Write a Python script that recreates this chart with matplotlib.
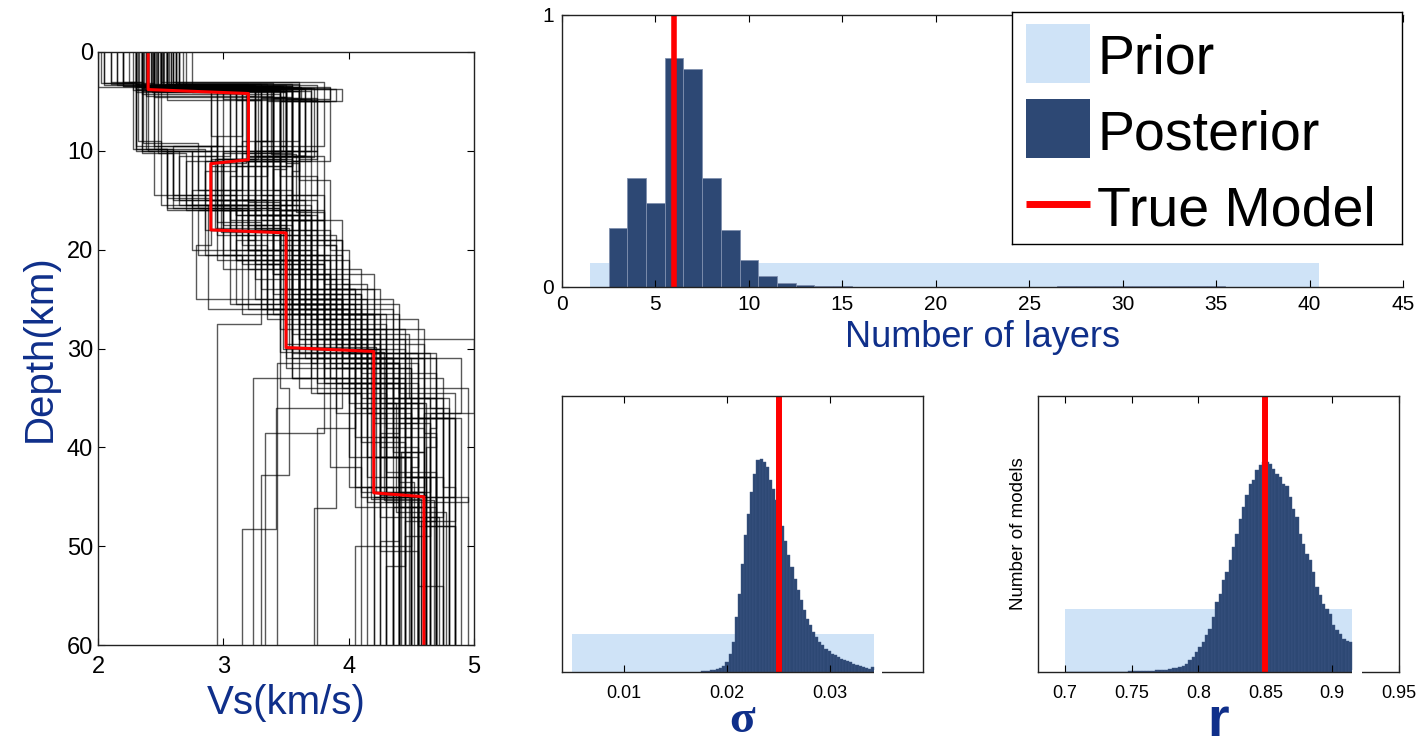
import numpy as np
import matplotlib.pyplot as plt

plt.rcParams['font.family'] = ['Liberation Sans', 'DejaVu Sans']

W, H = 1416, 746
blue_lbl = '#0f2f8a'
prior_col = '#cfe3f7'
post_col = '#2d4874'

# true model (Vs, depth) as drawn
true_vs = [2.4, 2.4, 3.2, 3.2, 2.9, 2.9, 3.5, 3.5, 4.2, 4.2, 4.6, 4.6]
true_depth = [0, 3.8, 4.2, 10.9, 11.3, 18.0, 18.3, 29.9, 30.3, 44.6, 45.0, 60]

# ensemble: each profile is [layer bottom depth, Vs]
profiles = [
    [[3.8, 2.40], [10.8, 3.30], [17.5, 3.00], [30.5, 3.55], [44.5, 4.20], [60, 4.60]],
    [[3.5, 2.50], [11.5, 3.40], [16.0, 2.90], [29.0, 3.60], [45.5, 4.15], [60, 4.55]],
    [[4.0, 2.30], [9.5, 3.20], [18.5, 3.10], [31.0, 3.50], [43.0, 4.30], [60, 4.65]],
    [[3.2, 2.55], [10.0, 3.55], [15.5, 3.00], [27.0, 3.70], [36.0, 4.10], [60, 4.50]],
    [[3.6, 2.45], [12.0, 3.10], [18.0, 2.85], [26.0, 3.40], [33.5, 4.00], [46.0, 4.40], [60, 4.70]],
    [[4.2, 2.35], [10.5, 3.45], [19.0, 3.20], [30.0, 3.75], [40.0, 4.25], [60, 4.55]],
    [[3.0, 2.60], [9.0, 3.60], [15.0, 3.30], [25.0, 3.50], [35.0, 4.35], [60, 4.75]],
    [[3.4, 2.20], [10.2, 2.35], [15.5, 2.70], [20.5, 3.30], [31.5, 3.95], [45.0, 4.40], [60, 4.60]],
    [[3.9, 2.50], [4.8, 3.00], [11.0, 3.70], [17.0, 3.40], [28.0, 3.80], [37.0, 4.45], [60, 4.80]],
    [[3.1, 2.05], [9.8, 2.30], [14.5, 2.60], [21.0, 3.10], [26.5, 3.60], [34.0, 4.20], [60, 4.45]],
    [[3.7, 2.65], [5.0, 3.90], [12.5, 3.35], [18.0, 3.05], [24.0, 3.85], [32.0, 4.05], [44.0, 4.50], [60, 4.35]],
    [[3.3, 2.15], [10.0, 2.90], [16.0, 2.55], [22.0, 3.20], [30.0, 3.70], [38.0, 4.30], [48.0, 4.60], [60, 4.85]],
    [[4.0, 2.75], [11.2, 3.50], [19.5, 3.60], [29.5, 3.90], [43.0, 4.15], [60, 4.40]],
    [[3.5, 2.35], [8.5, 3.15], [14.0, 2.95], [20.0, 2.75], [26.0, 3.30], [33.0, 3.85], [47.0, 4.25], [60, 4.60]],
    [[3.8, 2.28], [10.5, 3.05], [15.8, 2.80], [25.5, 3.45], [37.0, 4.40], [60, 4.90]],
    [[3.0, 2.50], [9.5, 3.80], [13.0, 3.60], [20.0, 3.85], [28.0, 4.00], [35.0, 4.60], [60, 4.70]],
    [[3.6, 2.40], [10.8, 3.25], [17.2, 2.95], [27.5, 3.30], [60, 2.95]],
    [[3.9, 2.45], [11.0, 3.35], [18.0, 3.15], [31.5, 3.75], [60, 3.43]],
    [[3.3, 2.35], [4.6, 3.50], [10.0, 3.45], [16.5, 3.20], [24.5, 3.55], [36.0, 3.95], [48.3, 3.42], [60, 3.15]],
    [[3.7, 2.55], [10.5, 3.65], [15.0, 3.40], [22.0, 3.45], [30.5, 3.60], [38.5, 3.80], [60, 3.33]],
    [[3.2, 2.10], [9.0, 2.32], [15.5, 2.50], [26.0, 2.88], [34.0, 3.45], [42.8, 3.52], [60, 3.30]],
    [[3.5, 2.45], [10.2, 3.10], [16.0, 3.00], [24.0, 3.30], [33.0, 3.55], [46.1, 3.90], [60, 3.72]],
    [[3.8, 2.60], [11.5, 3.55], [17.8, 3.25], [25.0, 3.50], [33.0, 3.70], [60, 3.24]],
    [[3.4, 2.30], [9.8, 2.45], [15.0, 2.85], [21.0, 3.35], [30.0, 3.85], [44.0, 4.05], [60, 4.20]],
    [[3.6, 2.50], [5.0, 3.70], [11.0, 3.85], [16.5, 3.55], [24.0, 3.75], [32.5, 4.25], [45.0, 4.70], [60, 4.55]],
    [[3.1, 2.62], [10.0, 3.40], [14.5, 3.75], [19.0, 3.50], [26.5, 3.95], [34.0, 4.20], [45.5, 4.95], [60, 4.80]],
    [[3.9, 2.35], [11.0, 3.60], [15.5, 3.10], [21.5, 3.60], [29.0, 3.80], [36.5, 5.00], [44.0, 4.60], [60, 4.30]],
    [[3.3, 2.45], [4.5, 3.25], [10.5, 3.20], [17.0, 3.45], [25.5, 3.65], [31.0, 4.10], [39.0, 4.50], [60, 4.25]],
    [[3.7, 2.55], [9.5, 3.50], [16.0, 3.30], [20.5, 2.80], [26.5, 3.40], [35.0, 4.15], [50.0, 4.50], [60, 4.05]],
    [[3.5, 2.00], [10.0, 2.40], [15.5, 2.95], [20.0, 3.05], [28.5, 3.55], [36.0, 4.05], [47.0, 4.75], [60, 4.60]],
    [[3.6, 2.40], [5.0, 3.85], [12.5, 3.45], [19.0, 3.75], [26.5, 3.95], [33.5, 4.30], [45.0, 4.55], [60, 4.95]],
    [[3.2, 2.30], [9.0, 3.35], [14.0, 3.15], [18.5, 2.95], [25.0, 3.25], [31.0, 3.95], [41.0, 4.35], [60, 4.50]],
    [[3.8, 2.50], [11.0, 3.00], [16.0, 2.70], [21.5, 3.15], [28.0, 3.45], [36.5, 3.90], [46.0, 4.30], [60, 4.65]],
    [[3.4, 2.70], [10.5, 3.55], [18.5, 3.65], [26.5, 3.90], [34.5, 4.40], [45.0, 4.85], [60, 4.70]],
    [[3.0, 2.25], [10.0, 2.35], [14.5, 2.45], [21.0, 2.95], [26.0, 3.20], [34.0, 3.60], [44.0, 4.00], [60, 4.35]],
    [[3.6, 2.55], [4.9, 3.10], [11.5, 3.25], [16.5, 3.10], [22.0, 3.55], [30.0, 3.65], [39.5, 4.10], [60, 4.45]],
    [[3.9, 2.40], [10.0, 3.70], [16.0, 3.50], [21.0, 3.70], [30.5, 4.00], [41.0, 4.25], [54.0, 4.55], [60, 4.75]],
    [[3.3, 2.60], [9.5, 2.95], [15.0, 2.60], [20.5, 3.00], [26.5, 3.35], [34.5, 3.75], [45.0, 4.10], [60, 4.40]],
    [[3.7, 2.45], [11.0, 3.40], [17.5, 3.20], [29.5, 3.50], [44.8, 4.25], [60, 4.62]],
    [[3.5, 2.35], [10.8, 3.20], [18.0, 2.90], [30.0, 3.48], [45.2, 4.18], [60, 4.58]],
    [[3.8, 2.50], [4.7, 3.45], [11.0, 3.30], [17.0, 3.05], [22.5, 3.40], [33.0, 3.55], [41.0, 4.00], [60, 4.40]],
    [[3.4, 2.20], [10.0, 3.05], [15.5, 2.75], [25.5, 3.05], [31.0, 3.65], [38.0, 4.05], [60, 3.75]],
    [[3.6, 2.65], [10.5, 3.65], [14.0, 3.40], [20.5, 3.55], [27.0, 3.80], [37.0, 4.55], [60, 4.85]],
    [[3.2, 2.40], [9.5, 2.30], [15.0, 3.00], [19.0, 3.25], [25.5, 3.10], [33.5, 3.80], [43.0, 4.45], [60, 4.70]],
    [[3.9, 2.55], [10.5, 3.50], [17.5, 3.35], [23.0, 3.25], [30.0, 3.90], [37.5, 4.20], [49.0, 4.65], [60, 4.45]],
    [[3.5, 2.30], [11.0, 3.15], [15.5, 2.85], [20.0, 3.20], [27.5, 3.60], [36.0, 4.30], [45.0, 4.45], [60, 4.20]],
    [[3.7, 2.48], [5.0, 3.95], [10.5, 3.60], [17.0, 3.80], [24.0, 3.60], [30.5, 4.20], [38.0, 4.70], [60, 4.65]],
    [[3.3, 2.05], [10.0, 2.50], [15.5, 2.65], [22.0, 3.00], [31.0, 3.55], [42.0, 3.85], [60, 4.10]],
    [[3.6, 2.42], [10.8, 3.28], [17.8, 2.93], [29.8, 3.52], [44.6, 4.22], [60, 4.55]],
    [[3.8, 2.38], [11.2, 3.18], [18.2, 2.98], [30.4, 3.45], [45.3, 4.28], [60, 4.68]],
    [[3.4, 2.58], [10.0, 3.48], [16.5, 3.25], [24.5, 3.70], [33.0, 4.10], [44.0, 4.75], [60, 4.85]],
    [[3.1, 2.15], [9.8, 2.28], [14.8, 2.55], [19.5, 2.90], [25.0, 2.78], [32.0, 3.50], [46.0, 4.05], [60, 4.30]],
    [[3.7, 2.52], [10.3, 3.38], [16.2, 3.58], [23.5, 3.80], [31.5, 4.15], [43.5, 4.40], [60, 4.52]],
    [[3.5, 2.33], [4.8, 3.62], [11.8, 3.50], [18.5, 3.40], [26.0, 3.60], [35.5, 4.00], [46.5, 4.38], [60, 4.78]],
    [[3.6, 2.62], [10.6, 3.72], [15.2, 3.20], [21.0, 3.45], [28.5, 3.70], [35.0, 4.48], [44.5, 4.65], [60, 4.50]],
    [[3.0, 2.10], [10.0, 2.30], [15.8, 2.75], [19.5, 3.15], [27.0, 3.35], [33.5, 3.90], [45.0, 4.30], [60, 4.55]],
    [[4.6, 2.45], [11.0, 3.50], [16.0, 3.35], [22.0, 3.65], [29.0, 3.75], [35.5, 4.45], [60, 4.62]],
    [[4.9, 2.55], [10.0, 3.75], [15.0, 3.55], [20.5, 3.65], [26.0, 3.85], [35.0, 4.10], [45.5, 4.80], [60, 4.55]],
    [[3.1, 2.02], [9.5, 2.45], [15.0, 2.90], [21.0, 3.40], [26.5, 3.55], [33.0, 4.25], [43.0, 4.45], [60, 4.75]],
    [[4.5, 2.38], [9.0, 3.40], [14.0, 3.25], [19.5, 3.45], [25.5, 3.60], [31.0, 4.05], [39.0, 4.35], [60, 4.40]],
    [[3.9, 2.62], [4.8, 3.55], [10.5, 3.65], [16.5, 3.45], [25.0, 3.70], [32.0, 3.95], [40.5, 4.35], [60, 4.60]],
    [[3.3, 2.48], [5.0, 3.75], [9.5, 3.45], [15.0, 3.60], [21.5, 3.50], [30.5, 3.80], [37.5, 4.55], [60, 4.40]],
    [[3.2, 2.68], [4.6, 3.30], [10.0, 3.55], [15.8, 3.25], [20.0, 3.45], [27.0, 3.75], [36.5, 4.15], [47.0, 4.50], [60, 4.72]],
    [[4.0, 2.43], [10.5, 2.95], [15.0, 2.65], [21.5, 3.25], [27.5, 3.50], [34.0, 4.00], [45.0, 4.20], [60, 4.48]],
    [[3.6, 2.35], [10.0, 3.25], [15.5, 3.05], [21.0, 3.20], [26.0, 3.35], [33.5, 3.75], [44.0, 4.35], [60, 4.15]],
    [[3.8, 2.57], [4.7, 3.40], [10.8, 3.75], [17.0, 3.60], [23.5, 3.95], [31.0, 4.00], [40.0, 4.70], [60, 4.62]],
    [[3.4, 2.50], [10.2, 3.45], [16.5, 3.10], [22.5, 3.55], [31.5, 3.85], [38.5, 4.40], [50.5, 4.25], [60, 4.55]],
    [[3.5, 2.40], [11.5, 3.55], [18.0, 3.40], [24.5, 3.40], [32.5, 4.10], [42.5, 4.30], [60, 4.70]],
    [[3.7, 2.30], [9.8, 2.38], [15.8, 2.55], [20.0, 3.20], [25.5, 3.45], [33.0, 3.80], [44.5, 4.10], [60, 4.55]],
    [[3.2, 2.55], [4.9, 3.20], [10.5, 3.30], [16.0, 3.40], [25.0, 3.80], [30.5, 3.95], [36.0, 4.65], [60, 4.80]],
    [[3.9, 2.50], [10.5, 3.60], [16.0, 3.70], [22.0, 3.60], [30.0, 4.10], [39.0, 4.45], [47.5, 4.70], [60, 4.45]],
    [[3.6, 2.46], [10.0, 3.35], [15.5, 3.55], [22.5, 3.40], [28.5, 3.85], [35.5, 4.25], [46.0, 4.60], [60, 4.35]],
    [[3.3, 2.32], [8.5, 2.90], [14.5, 2.95], [20.0, 3.40], [25.0, 3.70], [32.0, 4.15], [43.0, 4.50], [60, 4.62]],
    [[3.5, 2.62], [4.8, 3.85], [12.0, 3.60], [18.5, 3.55], [26.0, 3.70], [34.0, 3.95], [45.0, 4.25], [60, 4.35]],
    [[3.8, 2.44], [11.0, 3.45], [17.0, 3.30], [23.0, 3.70], [31.0, 4.00], [36.5, 4.90], [60, 4.65]],
    [[3.0, 2.20], [9.2, 2.36], [14.0, 2.80], [18.0, 3.25], [24.0, 3.50], [31.5, 4.05], [42.0, 4.55], [60, 4.50]],
    [[3.7, 2.58], [10.8, 3.50], [14.5, 3.30], [19.5, 3.80], [28.0, 3.90], [35.5, 4.30], [48.0, 4.55], [60, 4.85]],
    [[3.6, 2.52], [10.5, 3.25], [16.0, 3.45], [20.5, 3.60], [26.0, 3.65], [33.0, 4.35], [44.5, 4.40], [60, 4.60]],
    [[3.4, 2.36], [10.2, 3.55], [15.0, 3.15], [21.5, 3.35], [29.0, 3.60], [37.0, 4.20], [47.5, 4.85], [60, 4.58]],
    [[3.9, 2.65], [11.0, 3.40], [18.5, 3.50], [25.5, 3.55], [32.0, 3.90], [41.0, 4.20], [52.0, 4.45], [60, 4.30]],
    [[3.5, 2.42], [10.5, 3.60], [15.0, 3.45], [22.5, 3.75], [29.5, 4.20], [40.5, 4.60], [60, 4.42]],
    [[3.3, 2.47], [9.5, 3.15], [15.5, 2.90], [21.0, 3.10], [28.5, 3.65], [34.5, 3.70], [45.5, 4.30], [60, 4.40]],
    [[3.7, 2.37], [10.8, 3.30], [17.0, 3.55], [25.0, 3.60], [32.0, 3.80], [39.0, 4.05], [49.5, 4.40], [60, 4.25]],
    [[3.2, 2.53], [4.7, 3.60], [11.0, 3.40], [16.5, 3.35], [24.0, 3.45], [31.0, 3.75], [38.5, 4.60], [60, 4.70]],
    [[3.8, 2.30], [10.2, 2.48], [15.8, 2.60], [20.5, 2.85], [26.5, 3.15], [31.5, 3.70], [41.0, 4.15], [60, 4.50]],
]

# number of layers
prior_k = list(range(2, 41))
prior_k_h = 0.087
post_k = list(range(3, 41))
post_k_h = [0.218, 0.402, 0.307, 0.842, 0.800, 0.400, 0.209, 0.098, 0.039, 0.013,
            0.006, 0.003, 0.002, 0.001, 0.001, 0.001, 0.001, 0.001, 0.001, 0.001,
            0.001, 0.001, 0.001, 0.001, 0.002, 0.003, 0.004, 0.005, 0.005, 0.005,
            0.004, 0.003, 0.002, 0.001, 0.001, 0.001, 0.001, 0.0]
true_k = 6

# sigma
sig_prior = (0.005, 0.03425)
sig_prior_h = 0.138
sig_start, sig_width = 0.01745, 0.0003
sig_h = [0.002, 0.004, 0.005, 0.006, 0.007, 0.010, 0.014, 0.022, 0.036, 0.066,
         0.109, 0.199, 0.284, 0.393, 0.495, 0.574, 0.652, 0.719, 0.769, 0.773,
         0.761, 0.743, 0.694, 0.664, 0.622, 0.562, 0.528, 0.475, 0.423, 0.380,
         0.338, 0.298, 0.260, 0.226, 0.193, 0.169, 0.145, 0.127, 0.109, 0.097,
         0.085, 0.075, 0.066, 0.060, 0.054, 0.048, 0.045, 0.040, 0.035, 0.030,
         0.025, 0.021, 0.017, 0.013, 0.011, 0.018]
true_sig = 0.025

# r
r_prior = (0.70, 0.915)
r_prior_h = 0.228
r_start, r_width = 0.70, 0.0025
r_h = [0, 0, 0, 0, 0, 0, 0, 0, 0, 0, 0,
       0.001, 0.001, 0.001, 0.001, 0.001, 0.001, 0.001, 0.001,
       0.002, 0.002, 0.003, 0.003, 0.004, 0.004, 0.005, 0.005, 0.006, 0.007,
       0.008, 0.009, 0.011, 0.013, 0.015, 0.018, 0.022, 0.028,
       0.042, 0.054, 0.072, 0.091, 0.109, 0.133, 0.157, 0.199, 0.254, 0.284,
       0.332, 0.362, 0.405, 0.453, 0.501, 0.556, 0.598, 0.640, 0.682, 0.694,
       0.731, 0.749, 0.761, 0.761, 0.755, 0.737, 0.719, 0.707, 0.682, 0.673,
       0.634, 0.592, 0.562, 0.501, 0.465, 0.429, 0.405, 0.362, 0.308, 0.278,
       0.248, 0.229, 0.211, 0.169, 0.151, 0.136, 0.121, 0.112, 0.109]
true_r = 0.85


fig = plt.figure(figsize=(W / 100, H / 100), dpi=100)


def px_axes(x0, y0, x1, y1):
    return fig.add_axes([x0 / W, 1 - y1 / H, (x1 - x0) / W, (y1 - y0) / H])


def style(ax, size):
    ax.tick_params(direction='in', length=5, width=0.8, top=True, right=True, labelsize=size)
    for s in ax.spines.values():
        s.set_linewidth(1.0)
        s.set_color('#222222')


# ---- left: Vs profiles
ax = px_axes(98, 52, 474, 645)
for prof in profiles:
    xs, ys, top = [], [], 0
    for bottom, v in prof:
        xs += [v, v]
        ys += [top, bottom]
        top = bottom
    ax.plot(xs, ys, color='black', lw=1.0, alpha=0.65)
ax.plot(true_vs, true_depth, color='red', lw=2.2)
ax.set_xlim(2, 5)
ax.set_ylim(60, 0)
ax.set_xticks([2, 3, 4, 5])
ax.set_yticks([0, 10, 20, 30, 40, 50, 60])
style(ax, 17)
ax.tick_params(axis='x', pad=8)
ax.set_xlabel('Vs(km/s)', fontsize=29, color=blue_lbl, labelpad=4)
ax.set_ylabel('Depth(km)', fontsize=29, color=blue_lbl, labelpad=6)

# ---- top right: number of layers
ax1 = px_axes(562, 15, 1403, 287)
ax1.bar(prior_k, [prior_k_h] * len(prior_k), width=1, color=prior_col, lw=0)
ax1.bar(post_k, post_k_h, width=1, color=post_col, edgecolor='#7f8fae', lw=0.6)
ax1.axvline(true_k, color='red', lw=4)
ax1.set_xlim(0, 45)
ax1.set_ylim(0, 1)
ax1.set_xticks(range(0, 46, 5))
ax1.set_yticks([0, 1])
style(ax1, 15)
ax1.tick_params(right=False, pad=6)
ax1.spines['right'].set_visible(False)
ax1.set_xlabel('Number of layers', fontsize=26, color=blue_lbl, labelpad=4)

# legend drawn in its own box
lg = px_axes(1012, 12, 1402, 244)
lg.set_xlim(0, 390)
lg.set_ylim(232, 0)
lg.set_xticks([])
lg.set_yticks([])
for s in lg.spines.values():
    s.set_linewidth(1.0)
lg.add_patch(plt.Rectangle((14, 12), 64, 59, color=prior_col, lw=0))
lg.add_patch(plt.Rectangle((14, 87), 64, 59, color=post_col, lw=0))
lg.plot([14, 78], [192, 192], color='red', lw=5, solid_capstyle='butt')
for txt, yb in [('Prior', 62), ('Posterior', 138), ('True Model', 213)]:
    lg.text(85, yb, txt, fontsize=40, va='baseline', ha='left')

# ---- bottom: sigma
ax2 = px_axes(562, 396, 923, 672)
ax2.bar(sig_prior[0], sig_prior_h, width=sig_prior[1] - sig_prior[0], align='edge',
        color=prior_col, lw=0)
sig_edges = sig_start + sig_width * np.arange(len(sig_h))
ax2.bar(sig_edges, sig_h, width=sig_width, align='edge', color=post_col, lw=0.3,
        edgecolor='#3f5886')
ax2.axvline(true_sig, color='red', lw=4.3)
ax2.plot([sig_prior[1], sig_prior[1] + 2.5 * sig_width], [0, 0], color='white', lw=3,
         zorder=5, clip_on=False, solid_capstyle='butt')
ax2.set_xlim(0.004, 0.039)
ax2.set_ylim(0, 1)
ax2.set_xticks([0.01, 0.02, 0.03])
ax2.set_xticklabels(['0.01', '0.02', '0.03'])
ax2.set_yticks([])
style(ax2, 13)
ax2.tick_params(pad=9)
ax2.set_xlabel('σ', fontsize=34, color=blue_lbl, family='Liberation Serif',
               fontweight='bold', labelpad=-1)

# ---- bottom: r
ax3 = px_axes(1038, 396, 1399, 672)
ax3.bar(r_prior[0], r_prior_h, width=r_prior[1] - r_prior[0], align='edge',
        color=prior_col, lw=0)
r_edges = r_start + r_width * np.arange(len(r_h))
ax3.bar(r_edges, r_h, width=r_width, align='edge', color=post_col, lw=0.3,
        edgecolor='#3f5886')
ax3.axvline(true_r, color='red', lw=4.3)
ax3.plot([r_prior[1], r_prior[1] + 3 * r_width], [0, 0], color='white', lw=3,
         zorder=5, clip_on=False, solid_capstyle='butt')
ax3.set_xlim(0.68, 0.95)
ax3.set_ylim(0, 1)
ax3.set_xticks([0.7, 0.75, 0.8, 0.85, 0.9, 0.95])
ax3.set_xticklabels(['0.7', '0.75', '0.8', '0.85', '0.9', '0.95'])
ax3.set_yticks([])
style(ax3, 13)
ax3.tick_params(pad=9)
ax3.set_ylabel('Number of models', fontsize=13.5, labelpad=8)
ax3.set_xlabel('r', fontsize=40, color=blue_lbl, fontweight='bold', labelpad=-4)

fig.savefig('out.png', dpi=100)
